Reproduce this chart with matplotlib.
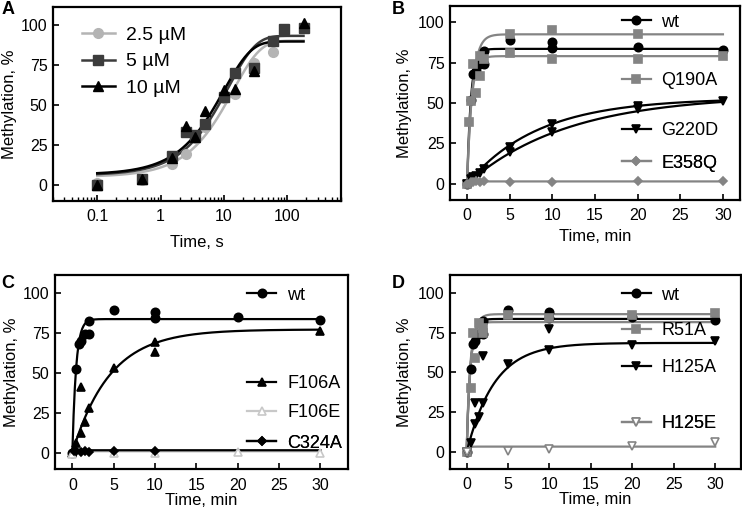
import numpy as np
import matplotlib.pyplot as plt
from matplotlib.lines import Line2D

plt.rcParams['font.family'] = ['Liberation Sans', 'DejaVu Sans']

# ---------------- data ----------------
# panel A: time in s, methylation %
t_a_25 = [0.1, 0.5, 1.5, 2.5, 3.5, 5, 10, 15, 30, 60]
y_a_25 = [1, 3, 13, 19, 29, 36, 54, 57, 76, 83]
t_a_5 = [0.1, 0.5, 1.5, 2.5, 3.5, 5, 10, 15, 30, 60, 90, 180]
y_a_5 = [0, 4, 18, 33, 31, 38, 55, 70, 73, 90, 97, 98]
t_a_10 = [0.1, 0.5, 1.5, 2.5, 3.5, 5, 10, 15, 30, 180]
y_a_10 = [0, 4, 17, 37, 30, 46, 59, 60, 71, 101]
# fit parameters (y0, plateau, k) for the three concentrations
fit_a_25 = [5, 90, 0.072]
fit_a_5 = [6, 93, 0.085]
fit_a_10 = [6.5, 89.5, 0.10]

# panels B-D: time in min
t_wt = [0, 0.5, 0.75, 1, 1.5, 2, 2, 5, 10, 10, 20, 30]
y_wt = [0, 52, 68, 70, 74, 82, 74, 89, 88, 84, 84.5, 83]
fit_wt = [[83.5, 2.2]]

t_q190a = [0, 0.25, 0.5, 0.75, 1, 1.5, 1.5, 2, 5, 5, 10, 10, 20, 20, 30]
y_q190a = [0, 38, 51, 74, 56, 67, 79, 77, 93, 81, 95, 77, 92.5, 77, 79]
fit_q190a = [[92.5, 1.6], [79, 2.0]]

t_g220d = [0, 0.5, 0.75, 1, 1.5, 2, 5, 5, 10, 10, 20, 20, 30]
y_g220d = [0, 3, 4, 5, 7, 9, 23, 20, 37, 32, 48, 46, 51]
fit_g220d = [[53, 0.12], [55, 0.085]]

t_e358q = [0, 0.5, 0.75, 1, 1.5, 2, 5, 10, 20, 30]
y_e358q = [0, 1, 1, 2, 1, 2, 1, 1, 2, 2]
fit_e358q = [[1.5, 5]]

t_f106a = [0, 0.5, 1, 1, 1.5, 2, 5, 10, 10, 30]
y_f106a = [0, 6, 41, 12, 19, 28, 53, 69, 63, 76]
fit_f106a = [[77, 0.22]]

t_f106e = [0, 5, 10, 20, 30]
y_f106e = [-1, 0, 0, 0.5, 0]
fit_f106e = [[0.8, 5]]

t_c324a = [0.25, 0.5, 1, 1.5, 2, 5, 10]
y_c324a = [1, 1, 0.5, 1, 0.5, 1, 1]
fit_c324a = [[1.5, 5]]

t_r51a = [0, 0.5, 0.75, 1, 1.5, 2, 2, 5, 10, 20, 30]
y_r51a = [0, 40, 75, 59, 81, 78, 75, 86, 84, 86, 87]
fit_r51a = [[86.5, 2.0], [81.5, 2.5]]

t_h125a = [0, 0.5, 1, 1, 1.5, 2, 2, 5, 10, 10, 20, 30]
y_h125a = [0, 6, 31, 18, 22, 31, 60, 55, 64, 77, 67, 70]
fit_h125a = [[68.5, 0.3]]

t_h125e = [0, 5, 10, 20, 30]
y_h125e = [0, 1, 2, 4, 6.5]
fit_h125e = [[3.6, 5]]

BLACK = '#000000'
DGRAY = '#3c3c3c'
GRAY = '#848484'
LGRAY = '#b4b4b4'
VLGRAY = '#c8c8c8'


def exp_rise(t, y0, top, k):
    return y0 + (top - y0) * (1 - np.exp(-k * t))


def style_axes(ax):
    for s in ax.spines.values():
        s.set_linewidth(1.6)
    ax.tick_params(direction='in', length=4, width=1.2, labelsize=11.5)
    ax.tick_params(axis='x', pad=6)
    ax.tick_params(axis='y', pad=4)
    ax.tick_params(which='minor', direction='in', length=3, width=1.0)


def add_entry(ax, handle, label, x, y, fs=13):
    leg = ax.legend([handle], [label], loc='center left', bbox_to_anchor=(x, y),
                    frameon=False, fontsize=fs, handlelength=1.6,
                    handletextpad=0.6, borderpad=0, borderaxespad=0)
    ax.add_artist(leg)


def series(ax, t, y, fits, color, marker, ms=6, mfc=None, lw=1.6, tt=None):
    if tt is None:
        tt = np.linspace(0, 30, 400)
    for top, k in fits:
        ax.plot(tt, exp_rise(tt, 0, top, k), color=color, lw=lw, zorder=2)
    ax.plot(t, y, ls='none', marker=marker, ms=ms, color=color,
            mfc=color if mfc is None else mfc, mew=1.2, zorder=3)
    return Line2D([], [], color=color, lw=lw, marker=marker, ms=ms,
                  mfc=color if mfc is None else mfc, mew=1.2)


fig = plt.figure(figsize=(7.42, 5.07), dpi=100)

# ---------------- A ----------------
axA = fig.add_axes([0.0714, 0.6036, 0.388, 0.3826])
tt = np.logspace(-1, np.log10(180), 300)
hA = []
for t, y, p, c, m in [(t_a_25, y_a_25, fit_a_25, LGRAY, 'o'),
                      (t_a_5, y_a_5, fit_a_5, DGRAY, 's'),
                      (t_a_10, y_a_10, fit_a_10, BLACK, '^')]:
    axA.plot(tt, exp_rise(tt, *p), color=c, lw=1.8, zorder=2)
    axA.plot(t, y, ls='none', marker=m, ms=7, color=c, zorder=3)
    hA.append(Line2D([], [], color=c, lw=1.8, marker=m, ms=7))
axA.set_xscale('log')
axA.set_xlim(0.02, 700)
axA.set_ylim(-10, 111)
axA.set_xticks([0.1, 1, 10, 100])
axA.set_xticklabels(['0.1', '1', '10', '100'])
axA.set_yticks([0, 25, 50, 75, 100])
style_axes(axA)
axA.set_xlabel('Time, s', fontsize=12, labelpad=8)
axA.set_ylabel('Methylation, %', fontsize=12, labelpad=3)
axA.legend(hA, ['2.5 µM', '5 µM', '10 µM'], loc='upper left',
           bbox_to_anchor=(0.1, 0.9), frameon=False, fontsize=14,
           handlelength=1.7, handletextpad=0.6, labelspacing=0.45,
           borderpad=0, borderaxespad=0)

# ---------------- B ----------------
axB = fig.add_axes([0.6065, 0.6055, 0.3908, 0.3826])
h_wt = series(axB, t_wt, y_wt, fit_wt, BLACK, 'o')
h_q = series(axB, t_q190a, y_q190a, fit_q190a, GRAY, 's')
h_g = series(axB, t_g220d, y_g220d, fit_g220d, BLACK, 'v')
h_e = series(axB, t_e358q, y_e358q, fit_e358q, GRAY, 'D', ms=4)
axB.set_xlim(-2, 32)
axB.set_ylim(-10, 110)
axB.set_xticks(range(0, 31, 5))
axB.set_yticks([0, 25, 50, 75, 100])
style_axes(axB)
axB.set_xlabel('Time, min', fontsize=12, labelpad=4)
axB.set_ylabel('Methylation, %', fontsize=12, labelpad=4)
for h, lab, y in [(h_wt, 'wt', 0.917), (h_q, 'Q190A', 0.617),
                  (h_g, 'G220D', 0.358), (h_e, 'E358Q', 0.19)]:
    add_entry(axB, h, lab, 0.592, y)

# ---------------- C ----------------
axC = fig.add_axes([0.0741, 0.0744, 0.3945, 0.383])
h_wt = series(axC, t_wt, y_wt, fit_wt, BLACK, 'o')
h_f1 = series(axC, t_f106a, y_f106a, fit_f106a, BLACK, '^')
h_f2 = series(axC, t_f106e, y_f106e, fit_f106e, VLGRAY, '^', mfc='white')
h_c = series(axC, t_c324a, y_c324a, fit_c324a, BLACK, 'D', ms=4)
axC.set_xlim(-2.1, 33.3)
axC.set_ylim(-10.4, 111)
axC.set_xticks(range(0, 31, 5))
axC.set_yticks([0, 25, 50, 75, 100])
style_axes(axC)
axC.set_xlabel('Time, min', fontsize=12, labelpad=0)
axC.set_ylabel('Methylation, %', fontsize=12, labelpad=3)
for h, lab, y in [(h_wt, 'wt', 0.896), (h_f1, 'F106A', 0.44),
                  (h_f2, 'F106E', 0.29), (h_c, 'C324A', 0.135)]:
    add_entry(axC, h, lab, 0.657, y)

# ---------------- D ----------------
axD = fig.add_axes([0.6065, 0.075, 0.392, 0.3826])
h_wt = series(axD, t_wt, y_wt, fit_wt, BLACK, 'o')
h_r = series(axD, t_r51a, y_r51a, fit_r51a, GRAY, 's')
h_ha = series(axD, t_h125a, y_h125a, fit_h125a, BLACK, 'v')
h_he = series(axD, t_h125e, y_h125e, fit_h125e, GRAY, 'v', mfc='white')
axD.set_xlim(-2, 33.1)
axD.set_ylim(-10.4, 111)
axD.set_xticks(range(0, 31, 5))
axD.set_yticks([0, 25, 50, 75, 100])
style_axes(axD)
axD.set_xlabel('Time, min', fontsize=12, labelpad=0)
axD.set_ylabel('Methylation, %', fontsize=12, labelpad=4)
for h, lab, y in [(h_wt, 'wt', 0.896), (h_r, 'R51A', 0.713),
                  (h_ha, 'H125A', 0.523), (h_he, 'H125E', 0.233)]:
    add_entry(axD, h, lab, 0.59, y)

# panel letters
for lab, x, y in [('A', 0.002, 0.998), ('B', 0.528, 0.998),
                  ('C', 0.002, 0.458), ('D', 0.528, 0.458)]:
    fig.text(x, y, lab, fontsize=13, fontweight='bold', ha='left', va='top')

fig.savefig('out.png', dpi=100)
